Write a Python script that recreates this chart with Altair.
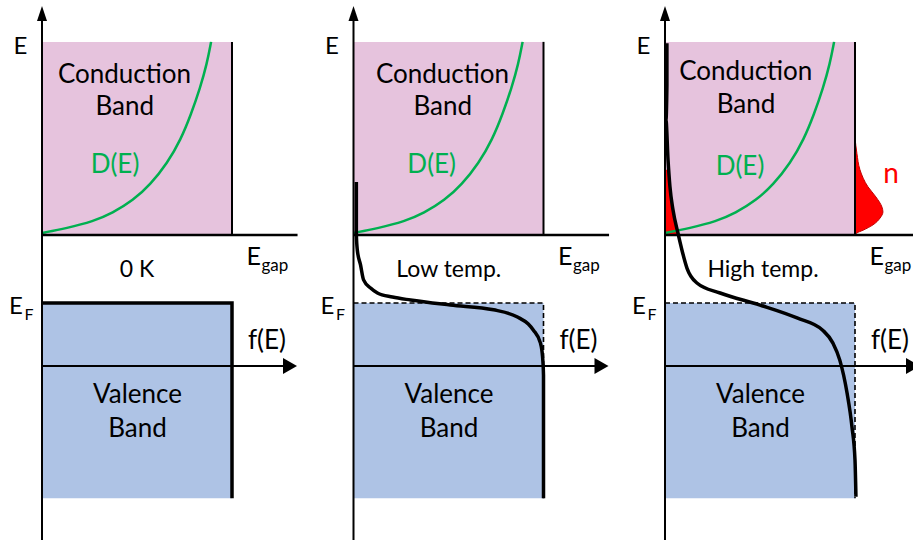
import altair as alt
import pandas as pd

# ---------------- data (f = occupation / fraction of band width, E in units of the gap, E_F = 0) ----
PANEL_LABELS = ["0 K", "Low temp.", "High temp."]
E_C = 1.0              # bottom of conduction band
E_CB_TOP = 3.84        # top of conduction band box
E_VB_TOP = 0.0         # top of valence band (= E_F)
E_VB_BOTTOM = -2.87    # bottom of valence band box
E_FAXIS = -0.926       # level of the f(E) axis

# density of states D(E)
DOS_F = [0.0, 0.13, 0.27, 0.37, 0.48, 0.57, 0.66, 0.73, 0.785, 0.832, 0.868, 0.89]
DOS_E = [1.03, 1.10, 1.20, 1.32, 1.51, 1.74, 2.06, 2.40, 2.78, 3.16, 3.52, 3.84]

# 0 K Fermi function (step)
STEP_F = [0.0, 1.0, 1.0]
STEP_E = [0.0, 0.0, -2.87]

# Fermi function, low temperature
LOW_F = [0.015, 0.015, 0.02, 0.037, 0.053, 0.09, 0.126, 0.205, 0.30, 0.51, 0.737, 0.863, 0.92, 0.947, 0.984, 0.995, 1.0, 1.0]
LOW_E = [1.78, 1.01, 0.78, 0.56, 0.34, 0.22, 0.147, 0.088, 0.044, -0.03, -0.10, -0.206, -0.31, -0.40, -0.59, -0.79, -1.06, -2.87]

# Fermi function, high temperature
HIGH_F = [0.01, 0.01, 0.005, 0.016, 0.026, 0.042, 0.068, 0.089, 0.116, 0.168, 0.29, 0.50, 0.695, 0.83, 0.884, 0.92, 0.958, 0.984, 1.0, 1.005]
HIGH_E = [3.82, 3.2, 2.69, 2.10, 1.71, 1.37, 1.03, 0.78, 0.51, 0.294, 0.147, -0.03, -0.22, -0.40, -0.59, -0.84, -1.32, -1.82, -2.31, -2.85]

# electrons in the conduction band n(E), high temperature
N_E = [2.43, 2.2, 1.96, 1.71, 1.56, 1.41, 1.34, 1.25, 1.15, 1.07, 1.03, 1.0]
N_W = [0.0, 0.01, 0.026, 0.068, 0.11, 0.142, 0.147, 0.132, 0.095, 0.042, 0.01, 0.0]

# red region between the E axis and f(E), high temperature
RED_E = [1.96, 1.71, 1.37, 1.03, 1.0]
RED_F = [0.02, 0.026, 0.042, 0.068, 0.07]

# ---------------- layout ----------------
W, H = 913, 541
PX_F = 190.0            # pixels per unit f
PX_E = 68.0             # pixels per unit E
AXIS0_PX = 42.0
EF_PX = 303.0
SHIFT = 311.5 / PX_F    # horizontal distance between panels
X_DOM = [-AXIS0_PX / PX_F, (W - AXIS0_PX) / PX_F]
Y_DOM = [(EF_PX - H) / PX_E, EF_PX / PX_E]

PINK = "#E6C3DD"
BLUE = "#AEC3E5"
GREEN = "#00B050"
RED = "#FF0000"
FONT = "Lato"

xs = alt.Scale(domain=X_DOM, nice=False, zero=False)
ys = alt.Scale(domain=Y_DOM, nice=False, zero=False)


def X(field="x"):
    return alt.X(f"{field}:Q", scale=xs, axis=None, title=None)


def Y(field="y"):
    return alt.Y(f"{field}:Q", scale=ys, axis=None, title=None)


# ---- rectangles (bands)
rect_rows = []
for p in range(3):
    s = p * SHIFT
    rect_rows.append({"x": s, "x2": s + 1, "y": E_C, "y2": E_CB_TOP, "c": PINK})
    rect_rows.append({"x": s, "x2": s + 1, "y": E_VB_BOTTOM, "y2": E_VB_TOP, "c": BLUE})
rects = alt.Chart(pd.DataFrame(rect_rows)).mark_rect().encode(
    x=X("x"), x2="x2:Q", y=Y("y"), y2="y2:Q", color=alt.Color("c:N", scale=None)
)

# ---- straight segments (axes, band edges)
seg_rows = []
for p in range(3):
    s = p * SHIFT
    seg_rows.append({"x": s, "x2": s, "y": (EF_PX - 540) / PX_E, "y2": (EF_PX - 15) / PX_E, "w": 2.0})
    seg_rows.append({"x": s, "x2": s + 1.28, "y": E_FAXIS, "y2": E_FAXIS, "w": 2.0})
    seg_rows.append({"x": s, "x2": s + 1.345, "y": E_C, "y2": E_C, "w": 2.5})
    seg_rows.append({"x": s + 1, "x2": s + 1, "y": E_C, "y2": E_CB_TOP, "w": 2.0})
segs = alt.Chart(pd.DataFrame(seg_rows)).mark_rule(color="black").encode(
    x=X("x"), x2="x2:Q", y=Y("y"), y2="y2:Q", strokeWidth=alt.StrokeWidth("w:Q", scale=None)
)

# ---- arrow heads
arr_up = pd.DataFrame({"x": [p * SHIFT for p in range(3)], "y": [(EF_PX - 6) / PX_E] * 3})
arr_rt = pd.DataFrame({"x": [p * SHIFT + (297 - AXIS0_PX) / PX_F for p in range(3)], "y": [E_FAXIS] * 3})
heads_up = alt.Chart(arr_up).mark_point(
    shape="M0,0L1,3L-1,3Z", size=100, filled=True, color="black", opacity=1, strokeWidth=0
).encode(x=X(), y=Y())
heads_rt = alt.Chart(arr_rt).mark_point(
    shape="M0,0L-1.75,-1L-1.75,1Z", size=256, filled=True, color="black", opacity=1, strokeWidth=0
).encode(x=X(), y=Y())

# ---- D(E) curves
dos_rows = []
for p in range(3):
    for k, (f, e) in enumerate(zip(DOS_F, DOS_E)):
        dos_rows.append({"p": p, "k": k, "x": p * SHIFT + f, "y": e})
dos = alt.Chart(pd.DataFrame(dos_rows)).mark_line(color=GREEN, strokeWidth=2.5, interpolate="basis").encode(
    x=X(), y=Y(), detail="p:N", order="k:Q"
)

# ---- red areas (panel 3)
s3 = 2 * SHIFT
n_df = pd.DataFrame({"y": N_E, "x": [s3 + 1] * len(N_E), "x2": [s3 + 1 + w for w in N_W]})
n_area = alt.Chart(n_df).mark_area(
    color=RED, orient="horizontal", interpolate="monotone", stroke="#C00000", strokeWidth=1
).encode(y=Y(), x=X(), x2="x2:Q")
red_df = pd.DataFrame({"y": RED_E, "x": [s3] * len(RED_E), "x2": [s3 + f for f in RED_F]})
red_area = alt.Chart(red_df).mark_area(color=RED, orient="horizontal").encode(y=Y(), x=X(), x2="x2:Q")

# ---- Fermi functions
step_rows = []
for p in range(3):
    for k, (f, e) in enumerate(zip(STEP_F, STEP_E)):
        step_rows.append({"p": p, "k": k, "x": p * SHIFT + f, "y": e})
step_df = pd.DataFrame(step_rows)
step_solid = alt.Chart(step_df[step_df.p == 0]).mark_line(color="black", strokeWidth=3.5, strokeJoin="miter").encode(
    x=X(), y=Y(), order="k:Q"
)
step_dash = alt.Chart(step_df[step_df.p > 0]).mark_line(color="black", strokeWidth=1.6, strokeDash=[5, 3]).encode(
    x=X(), y=Y(), detail="p:N", order="k:Q"
)
fermi_rows = []
for k, (f, e) in enumerate(zip(LOW_F, LOW_E)):
    fermi_rows.append({"p": 1, "k": k, "x": SHIFT + f, "y": e})
for k, (f, e) in enumerate(zip(HIGH_F, HIGH_E)):
    fermi_rows.append({"p": 2, "k": k, "x": 2 * SHIFT + f, "y": e})
fermi = alt.Chart(pd.DataFrame(fermi_rows)).mark_line(
    color="black", strokeWidth=3.5, interpolate="monotone", strokeCap="butt"
).encode(x=X(), y=Y(), detail="p:N", order="k:Q")

# ---- texts
def E_of(px):
    return (EF_PX - px) / PX_E


def F_of(px):
    return (px - AXIS0_PX) / PX_F


cond_pos = [(124.5, 83, 124.7, 115, 115, 173), (131.0, 83, 131.3, 115, 120.2, 173), (122.8, 80, 123, 113, 117, 175)]
temp_fx = [137, 137.3, 140]
center_rows, left_rows = [], []
for p in range(3):
    s = p * SHIFT
    cx, cy, bx, by, dx, dy = cond_pos[p]
    center_rows += [
        {"t": "E", "x": s + F_of(20.5), "y": E_of(54), "sz": 24, "c": "black"},
        {"t": "Conduction", "x": s + F_of(cx), "y": E_of(cy), "sz": 26, "c": "black"},
        {"t": "Band", "x": s + F_of(bx), "y": E_of(by), "sz": 26, "c": "black"},
        {"t": "D(E)", "x": s + F_of(dx), "y": E_of(dy), "sz": 26, "c": GREEN},
        {"t": PANEL_LABELS[p], "x": s + F_of(temp_fx[p]), "y": E_of(277), "sz": 23, "c": "black"},
        {"t": "f(E)", "x": s + F_of(267), "y": E_of(349), "sz": 26, "c": "black"},
        {"t": "Valence", "x": s + F_of(137.5), "y": E_of(403), "sz": 26, "c": "black"},
        {"t": "Band", "x": s + F_of(137.5), "y": E_of(437), "sz": 26, "c": "black"},
    ]
    left_rows += [
        {"t": "E", "x": s + F_of(246.5), "y": E_of(265), "sz": 25, "c": "black"},
        {"t": "gap", "x": s + F_of(261.5), "y": E_of(271), "sz": 17, "c": "black"},
        {"t": "E", "x": s + F_of(9), "y": E_of(314), "sz": 24, "c": "black"},
        {"t": "F", "x": s + F_of(24.5), "y": E_of(320), "sz": 16, "c": "black"},
    ]
center_rows.append({"t": "n", "x": s3 + F_of(268), "y": E_of(183), "sz": 28, "c": RED})

text_center = alt.Chart(pd.DataFrame(center_rows)).mark_text(
    font=FONT, align="center", baseline="alphabetic"
).encode(x=X(), y=Y(), text="t:N", size=alt.Size("sz:Q", scale=None), color=alt.Color("c:N", scale=None))
text_left = alt.Chart(pd.DataFrame(left_rows)).mark_text(
    font=FONT, align="left", baseline="alphabetic"
).encode(x=X(), y=Y(), text="t:N", size=alt.Size("sz:Q", scale=None), color=alt.Color("c:N", scale=None))

chart = alt.layer(
    rects, red_area, n_area, dos, segs, step_dash, step_solid, fermi,
    heads_up, heads_rt, text_center, text_left
).properties(
    width=W, height=H, autosize=alt.AutoSizeParams(type="none"), padding=0, background="white"
).configure_view(stroke=None)

chart.save("out.html", embed_options={"renderer": "svg", "actions": False})
